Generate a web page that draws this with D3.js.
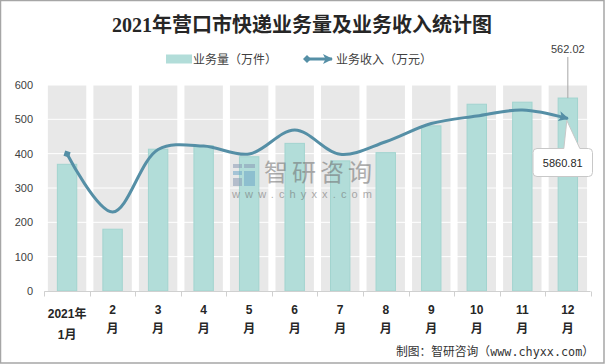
<!DOCTYPE html>
<html><head><meta charset="utf-8">
<script src="https://cdn.jsdelivr.net/npm/d3@7/dist/d3.min.js"></script>
<style>
body{margin:0;background:#fff;}
text{font-family:"Liberation Sans","Noto Sans CJK SC",sans-serif;}
</style></head>
<body>
<svg id="c" width="605" height="364"></svg>
<script>
const months = ["2021年1月","2月","3月","4月","5月","6月","7月","8月","9月","10月","11月","12月"];
const xLine1 = ["2021年","2","3","4","5","6","7","8","9","10","11","12"];
const xLine2 = ["1月","月","月","月","月","月","月","月","月","月","月","月"];
const volume = [369,180,413,423,391,430,379,403,481,544,550,562.02];   // 万件
const revenue = [4655,2685,4808,4927,4655,5472,4645,5073,5690,5948,6150,5860.81]; // 万元
const yTicks = [0,100,200,300,400,500,600];
const title = "2021年营口市快递业务量及业务收入统计图";

const svg = d3.select("#c");
const x = d3.scaleBand().domain(months).range([44.3,590.6]).padding(0);
const y = d3.scaleLinear().domain([0,600]).range([291,85]);
const y2 = d3.scaleLinear().domain([0,7000]).range([291,85]);
const bw = x.bandwidth();

// border
svg.append("rect").attr("x",0.5).attr("y",0.5).attr("width",603.5).attr("height",362.5)
  .attr("fill","none").attr("stroke","#a6a6a6").attr("stroke-width",1.5);

// title
svg.append("text").attr("x",302).attr("y",32).attr("text-anchor","middle")
  .attr("font-size",20).attr("font-weight","bold").attr("fill","#262626")
  .style("font-family",'"Liberation Serif","Noto Sans CJK SC",serif')
  .text(title);

// legend
svg.append("rect").attr("x",166).attr("y",54.5).attr("width",26).attr("height",9)
  .attr("fill","#b2ddd9");
svg.append("text").attr("x",193).attr("y",63.5).attr("font-size",12).attr("fill","#404040").text("业务量（万件）");
const defs = svg.append("defs");
defs.append("marker").attr("id","arr").attr("viewBox","0 0 10 10").attr("refX",9).attr("refY",5)
  .attr("markerWidth",10).attr("markerHeight",10).attr("markerUnits","userSpaceOnUse").attr("orient","auto")
  .append("path").attr("d","M0,0 L10,5 L0,10 L2.5,5 Z").attr("fill","#558fa6");
defs.append("marker").attr("id","dia").attr("viewBox","0 0 10 10").attr("refX",5).attr("refY",5)
  .attr("markerWidth",8).attr("markerHeight",8).attr("markerUnits","userSpaceOnUse").attr("orient","auto")
  .append("path").attr("d","M0,5 L5,0 L10,5 L5,10 Z").attr("fill","#558fa6");
svg.append("line").attr("x1",307).attr("x2",332).attr("y1",59).attr("y2",59)
  .attr("stroke","#558fa6").attr("stroke-width",3)
  .attr("marker-start","url(#dia)").attr("marker-end","url(#arr)");
svg.append("text").attr("x",336).attr("y",63.5).attr("font-size",12).attr("fill","#404040").text("业务收入（万元）");

// gray bands
svg.append("g").selectAll("rect").data(months).join("rect")
  .attr("x",d=>x(d)+bw/2-19.2).attr("width",38.4)
  .attr("y",y(600)).attr("height",y(0)-y(600)).attr("fill","#e8e8e8");

// gridlines
svg.append("g").selectAll("line").data(yTicks.filter(t=>t>0)).join("line")
  .attr("x1",44.3).attr("x2",590.6).attr("y1",d=>y(d)).attr("y2",d=>y(d))
  .attr("stroke","#fff").attr("stroke-width",1);

// bars
svg.append("g").selectAll("rect").data(volume).join("rect")
  .attr("x",(d,i)=>x(months[i])+bw/2-9.7).attr("width",19.4)
  .attr("y",d=>y(d)).attr("height",d=>y(0)-y(d))
  .attr("fill","#b2ddd9").attr("stroke","#a2d4cf").attr("stroke-width",1);

// watermark
const wm = svg.append("g").attr("opacity",0.55);
wm.append("rect").attr("x",233).attr("y",164).attr("width",9).attr("height",4).attr("fill","#8a9bb5");
wm.append("rect").attr("x",244).attr("y",164).attr("width",11).attr("height",4).attr("fill","#8a9bb5");
wm.append("rect").attr("x",233).attr("y",171).attr("width",9).attr("height",4).attr("fill","#6fa8c8");
wm.append("rect").attr("x",244).attr("y",171).attr("width",11).attr("height",15).attr("fill","#6fa8c8");
wm.append("rect").attr("x",233).attr("y",178).attr("width",9).attr("height",8).attr("fill","#8a9bb5");
wm.append("text").attr("x",264).attr("y",181).attr("font-size",24).attr("fill","#6e6e6e")
  .attr("textLength",108).attr("lengthAdjust","spacing").text("智研咨询");
wm.append("text").attr("x",232).attr("y",198).attr("font-size",11).attr("fill","#6e6e6e")
  .attr("textLength",140).attr("lengthAdjust","spacing").text("www.chyxx.com");

// y labels
svg.append("g").selectAll("text").data(yTicks).join("text")
  .attr("x",33).attr("y",d=>y(d)+4).attr("text-anchor","end")
  .attr("font-size",11).attr("fill","#404040").text(d=>d);

// x axis
svg.append("line").attr("x1",44.3).attr("x2",590.6).attr("y1",291.5).attr("y2",291.5)
  .attr("stroke","#d0d0d0").attr("stroke-width",1);
svg.append("g").selectAll("line").data(months.concat(["end"])).join("line")
  .attr("x1",(d,i)=>Math.round(i<12?x(d):590.6)+0.5).attr("x2",(d,i)=>Math.round(i<12?x(d):590.6)+0.5)
  .attr("y1",291.5).attr("y2",296.5).attr("stroke","#d0d0d0");
const xl = svg.append("g").attr("font-size",12).attr("font-weight","bold").attr("fill","#262626");
xl.selectAll("text.l1").data(xLine1).join("text").attr("class","l1")
  .attr("x",(d,i)=>x(months[i])+bw/2).attr("y",(d,i)=>i===0?317.5:313.5)
  .attr("text-anchor","middle").text(d=>d);
xl.selectAll("text.l2").data(xLine2).join("text").attr("class","l2")
  .attr("x",(d,i)=>x(months[i])+bw/2).attr("y",(d,i)=>i===0?339:333)
  .attr("text-anchor","middle").text(d=>d);

// line
const line = d3.line().x((d,i)=>x(months[i])+bw/2).y(d=>y2(d)).curve(d3.curveCatmullRom.alpha(0.5));
svg.append("path").datum(revenue).attr("d",line).attr("fill","none")
  .attr("stroke","#558fa6").attr("stroke-width",3)
  .attr("marker-start","url(#dia)").attr("marker-end","url(#arr)");

// data labels
const lx = x(months[11])+bw/2;
svg.append("line").attr("x1",lx).attr("x2",lx).attr("y1",57).attr("y2",y(volume[11]))
  .attr("stroke","#a6a6a6").attr("stroke-width",1);
svg.append("text").attr("x",lx).attr("y",53).attr("text-anchor","middle")
  .attr("font-size",11).attr("fill","#404040").text(volume[11]);

const ty = y2(revenue[11]);
const bx0=533, bx1=592.5, by0=148.5, by1=176.5, r=4;
const callout = `M${bx0+r},${by0} L${lx-4},${by0} L${lx-1},${ty+2} L${lx+12},${by0} L${bx1-r},${by0} Q${bx1},${by0} ${bx1},${by0+r} L${bx1},${by1-r} Q${bx1},${by1} ${bx1-r},${by1} L${bx0+r},${by1} Q${bx0},${by1} ${bx0},${by1-r} L${bx0},${by0+r} Q${bx0},${by0} ${bx0+r},${by0} Z`;
svg.append("path").attr("d",callout).attr("fill","#fff").attr("stroke","#c8c8c8").attr("stroke-width",1);
svg.append("text").attr("x",(bx0+bx1)/2).attr("y",166.5).attr("text-anchor","middle")
  .attr("font-size",11).attr("fill","#262626").text(revenue[11].toFixed(2));

// footer
svg.append("text").attr("x",396).attr("y",356).attr("font-size",12).attr("fill","#333")
  .attr("textLength",198).attr("lengthAdjust","spacingAndGlyphs")
  .style("font-family",'"DejaVu Sans Mono","Noto Sans CJK SC",monospace')
  .text("制图：智研咨询（www.chyxx.com）");
</script>
</body></html>
